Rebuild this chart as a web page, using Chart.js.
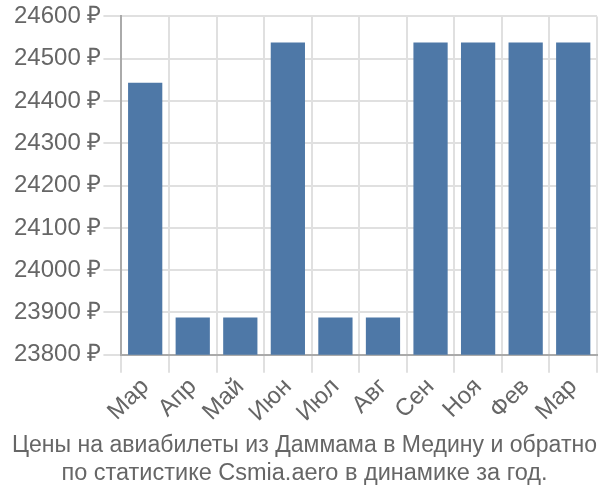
<!DOCTYPE html>
<html>
<head>
<meta charset="utf-8">
<script src="https://cdn.jsdelivr.net/npm/chart.js@4/dist/chart.umd.min.js"></script>
<style>
  html, body { margin: 0; padding: 0; background: #fff; }
  #wrap { width: 600px; height: 500px; }
</style>
</head>
<body>
<div id="wrap"><canvas id="chart"></canvas></div>
<script>
const months = ["Мар", "Апр", "Май", "Июн", "Июл", "Авг", "Сен", "Ноя", "Фев", "Мар"];
const prices = [24443, 23888, 23888, 24538, 23888, 23888, 24538, 24538, 24538, 24538];
const yMin = 23800;
const yMax = 24600;
const yStep = 100;
const titleLines = ["Цены на авиабилеты из Даммама в Медину и обратно", "по статистике Csmia.aero в динамике за год."];

const fontFamily = "Liberation Sans, Arial, sans-serif";

const ctx = document.getElementById("chart").getContext("2d");
new Chart(ctx, {
  type: "bar",
  data: {
    labels: months,
    datasets: [{
      data: prices,
      backgroundColor: "#4e78a7",
      borderWidth: 0
    }]
  },
  options: {
    responsive: true,
    maintainAspectRatio: false,
    animation: false,
    layout: { padding: { left: 12, right: 3, top: 2, bottom: 10 } },
    plugins: {
      legend: { display: false },
      tooltip: { enabled: false },
      title: {
        display: true,
        position: "bottom",
        text: titleLines,
        color: "#666",
        font: { family: fontFamily, size: 23.5, weight: "normal" },
        padding: { top: 4, bottom: 2 }
      }
    },
    scales: {
      x: {
        grid: { color: "#e0e0e0", lineWidth: 2, tickLength: 18 },
        border: { color: "#aaa", width: 2 },
        ticks: {
          color: "#666",
          font: { family: fontFamily, size: 24 },
          padding: 0,
          maxRotation: 45,
          minRotation: 45,
          autoSkip: false
        }
      },
      y: {
        min: yMin,
        max: yMax,
        grid: { color: "#e0e0e0", lineWidth: 2, tickLength: 18 },
        border: { color: "#aaa", width: 2 },
        ticks: {
          stepSize: yStep,
          color: "#666",
          padding: 2,
          font: { family: fontFamily, size: 24 },
          callback: (v) => v + " ₽"
        }
      }
    }
  }
});
</script>
</body>
</html>
